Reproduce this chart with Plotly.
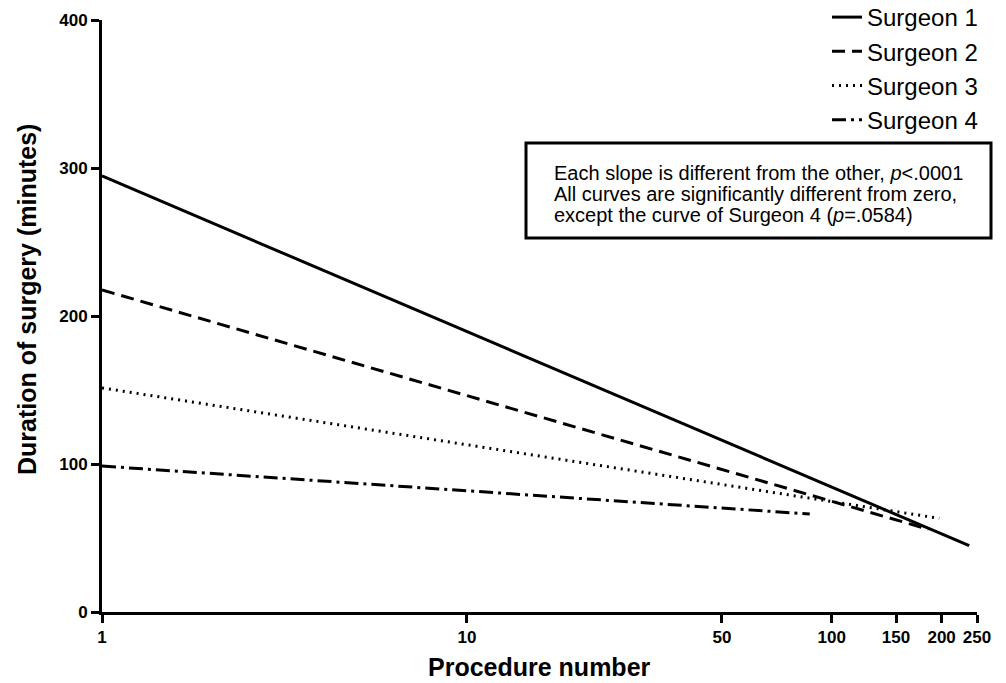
import plotly.graph_objects as go

surgeons = ["Surgeon 1", "Surgeon 2", "Surgeon 3", "Surgeon 4"]
x_start = [1, 1, 1, 1]
x_end = [238, 184, 197, 87]
y_start = [294.6, 217.6, 151.4, 98.6]
y_end = [44.8, 55.9, 63.3, 66.2]
dashes = ["solid", "13px,7px", "2px,5px", "14px,5px,3px,5px"]

x_ticks = [1, 10, 50, 100, 150, 200, 250]
y_ticks = [0, 100, 200, 300, 400]

note_lines = [
    "Each slope is different from the other, <i>p</i><.0001",
    "All curves are significantly different from zero,",
    "except the curve of Surgeon 4 (<i>p</i>=.0584)",
]

FONT = "Liberation Sans, Arial, sans-serif"

fig = go.Figure()
for i, name in enumerate(surgeons):
    fig.add_trace(go.Scatter(
        x=[x_start[i], x_end[i]], y=[y_start[i], y_end[i]],
        mode="lines", name=name,
        line=dict(color="black", width=3, dash=dashes[i]),
    ))

# pixel helpers for paper coordinates (plot area: x 102..977, y 20..612)
def px_x(p):
    return (p - 102) / 875.0

def px_y(p):
    return (612 - p) / 592.0

annotations = [
    dict(text="<b>Procedure number</b>", xref="paper", yref="paper",
         x=0.5, y=px_y(667), xanchor="center", yanchor="middle",
         showarrow=False, font=dict(size=25, family=FONT)),
    dict(text="<b>Duration of surgery (minutes)</b>", xref="paper", yref="paper",
         x=px_x(27), y=px_y(300), xanchor="center", yanchor="middle", textangle=-90,
         showarrow=False, font=dict(size=25, family=FONT)),
]
for k, line in enumerate(note_lines):
    annotations.append(dict(
        text=line, xref="paper", yref="paper",
        x=px_x(552), y=px_y(173 + 21 * k), xanchor="left", yanchor="middle",
        align="left", showarrow=False, font=dict(size=20, family=FONT),
    ))

fig.update_layout(
    width=1006, height=683,
    margin=dict(l=102, r=29, t=20, b=71, autoexpand=False),
    paper_bgcolor="white", plot_bgcolor="white",
    font=dict(family=FONT, color="black"),
    showlegend=True,
    legend=dict(
        x=px_x(827), y=px_y(-5), xanchor="left", yanchor="top",
        font=dict(size=24, family=FONT, color="black"),
        tracegroupgap=0, itemwidth=30, bgcolor="rgba(0,0,0,0)",
    ),
    xaxis=dict(
        type="log", range=[0, 2.3979],
        tickvals=x_ticks, ticktext=[str(v) for v in x_ticks],
        showgrid=False, zeroline=False,
        showline=True, linecolor="black", linewidth=3,
        ticks="outside", ticklen=8, tickwidth=3, tickcolor="black",
        tickfont=dict(size=17, family=FONT, weight="bold"),
    ),
    yaxis=dict(
        range=[0, 400],
        tickvals=y_ticks,
        showgrid=False, zeroline=False,
        showline=True, linecolor="black", linewidth=3,
        ticks="outside", ticklen=8, tickwidth=3, tickcolor="black",
        tickfont=dict(size=17, family=FONT, weight="bold"),
    ),
    annotations=annotations,
    shapes=[dict(type="rect", xref="paper", yref="paper",
                 x0=px_x(526), x1=px_x(991), y0=px_y(238), y1=px_y(143),
                 line=dict(color="black", width=3), fillcolor="rgba(0,0,0,0)")],
)

fig.write_html("out.html")
